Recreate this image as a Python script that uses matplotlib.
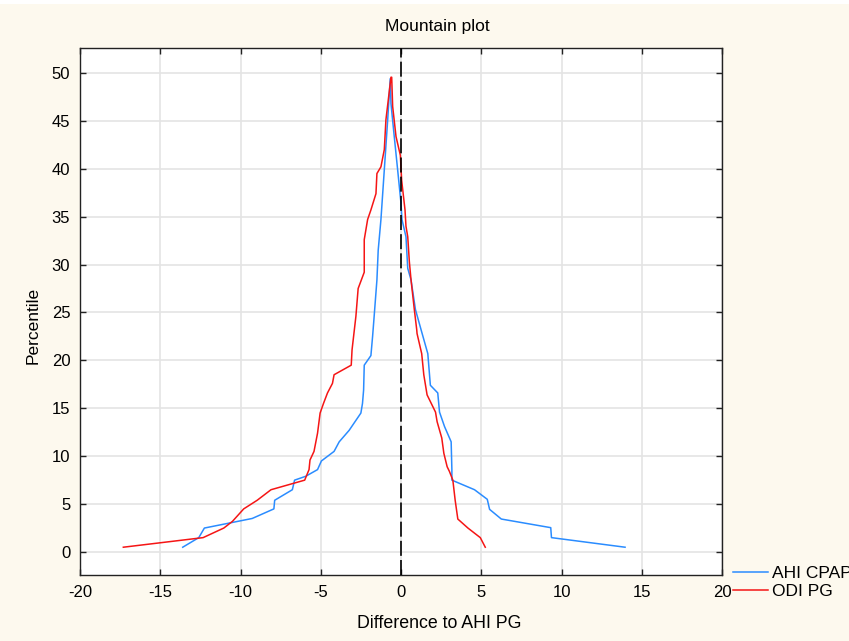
import matplotlib
matplotlib.use("Agg")
import matplotlib.pyplot as plt
from matplotlib.patches import Rectangle

plt.rcParams['font.family'] = ['Liberation Sans', 'DejaVu Sans']
plt.rcParams['axes.unicode_minus'] = False

# AHI CPAP (blue) – difference vs. folded percentile
ahi_cpap_x = [-13.6, -12.6, -12.25, -9.27, -7.92, -7.87, -6.77, -6.63, -5.94, -5.2, -4.96,
              -4.17, -3.85, -3.23, -2.5, -2.4, -2.33, -2.29, -1.875, -1.77, -1.7, -1.5,
              -1.42, -1.25, -1.04, -0.83, -0.67,
              -0.625, -0.42, -0.21, 0.0, 0.06, 0.31, 0.42, 0.625, 0.9, 1.25, 1.67, 1.83,
              2.29, 2.4, 2.71, 3.125, 3.17, 3.17, 4.58, 5.375, 5.52, 6.25, 9.33, 9.375, 13.96]
ahi_cpap_y = [0.5, 1.5, 2.5, 3.5, 4.5, 5.4, 6.5, 7.5, 7.9, 8.6, 9.5,
              10.5, 11.5, 12.7, 14.5, 15.5, 16.9, 19.5, 20.5, 22.5, 24.0, 28.4,
              31.5, 34.7, 39.9, 45.1, 49.4,
              46.8, 43.35, 39.9, 36.4, 34.7, 32.9, 29.6, 28.4, 25.3, 23.2, 20.7, 17.4,
              16.6, 14.6, 13.1, 11.5, 8.6, 7.5, 6.5, 5.5, 4.45, 3.44, 2.54, 1.5, 0.5]

# ODI PG (red)
odi_pg_x = [-17.3, -12.33, -11.04, -10.5, -9.8, -8.96, -8.1, -6.0, -5.73, -5.67, -5.42,
            -5.2, -5.04, -4.83, -4.58, -4.27, -4.17, -3.1, -3.05, -2.81, -2.67, -2.29,
            -2.29, -2.08, -1.875, -1.56, -1.5, -1.25, -1.04, -0.94, -0.625,
            -0.58, -0.52, -0.31, -0.04, 0.04, 0.25, 0.31, 0.42, 0.52, 0.625, 0.83, 0.98,
            1.0, 1.29, 1.42, 1.625, 2.15, 2.25, 2.54, 2.67, 2.875, 3.02, 3.23, 3.375,
            3.54, 4.17, 4.94, 5.25]
odi_pg_y = [0.5, 1.5, 2.5, 3.2, 4.5, 5.4, 6.5, 7.5, 8.6, 9.6, 10.5,
            12.4, 14.5, 15.5, 16.6, 17.6, 18.5, 19.5, 21.1, 24.6, 27.5, 29.2,
            32.6, 34.7, 35.7, 37.4, 39.5, 40.2, 42.0, 45.1, 49.55,
            49.55, 46.5, 43.35, 41.4, 38.8, 35.7, 34.0, 32.9, 30.3, 28.4, 25.3, 23.2,
            22.8, 20.7, 18.5, 16.4, 14.6, 13.6, 11.9, 10.3, 8.9, 8.4, 7.5, 5.4,
            3.44, 2.5, 1.5, 0.5]

x_ticks = [-20, -15, -10, -5, 0, 5, 10, 15, 20]
y_ticks = [0, 5, 10, 15, 20, 25, 30, 35, 40, 45, 50]
series_labels = ["AHI CPAP", "ODI PG"]

W, H = 849, 641
fig = plt.figure(figsize=(W / 100, H / 100), dpi=100, facecolor='white')
fig.patches.append(Rectangle((0, 0), 1, 1 - 4 / H, transform=fig.transFigure,
                             facecolor='#fdf9ee', edgecolor='none', zorder=-10))

ax = fig.add_axes([80 / W, 1 - 575 / H, (722 - 80) / W, (575 - 48) / H])
ax.set_facecolor('white')

blue = '#2a8cff'
red = '#f51515'
l1, = ax.plot(ahi_cpap_x, ahi_cpap_y, color=blue, lw=1.1, zorder=3)
l2, = ax.plot(odi_pg_x, odi_pg_y, color=red, lw=1.1, zorder=4)
ax.axvline(0, color='black', lw=1.2, dashes=(9, 2.5), zorder=5)

ax.set_xlim(-20, 20)
ax.set_ylim(-2.4, 52.6)
ax.set_xticks(x_ticks)
ax.set_yticks(y_ticks)
ax.grid(True, color='#e4e4e4', lw=1.2, zorder=0)
ax.set_axisbelow(True)
ax.tick_params(direction='in', length=4, width=1, top=True, right=True,
               labelsize=12, colors='#222222', labelcolor='black', pad=7)
for s in ax.spines.values():
    s.set_color('#222222')
    s.set_linewidth(1.0)

fig.text(437 / W, 1 - 27 / H, "Mountain plot", ha='center', va='center', fontsize=12.5)
fig.text(439 / W, 1 - 623 / H, "Difference to AHI PG", ha='center', va='center', fontsize=12.8)
fig.text(33 / W, 1 - 325 / H, "Percentile", ha='center', va='center', rotation=90, fontsize=12.5)

fig.legend([l1, l2], series_labels, loc='upper left',
           bbox_to_anchor=(733 / W, 1 - 566 / H), frameon=False,
           handlelength=2.0, handletextpad=0.25, labelspacing=0.15,
           borderpad=0, borderaxespad=0, fontsize=12.5)

fig.savefig('out.png', dpi=100, facecolor=fig.get_facecolor())
